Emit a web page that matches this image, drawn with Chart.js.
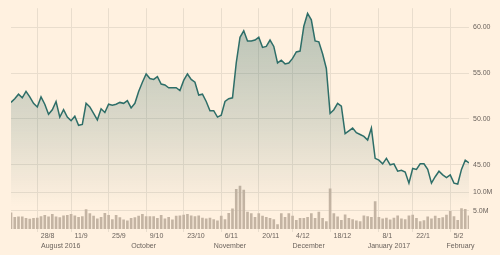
<!DOCTYPE html>
<html>
<head>
<meta charset="utf-8">
<script src="https://cdn.jsdelivr.net/npm/chart.js@4"></script>
<style>
    html, body { margin: 0; padding: 0; background: #fff1e0; }
    #wrap { width: 500px; height: 255px; position: relative; }
</style>
</head>
<body>
<div id="wrap"><canvas id="priceChart"></canvas></div>
<script>
// ==================== DATA ====================
// One value per trading day, 18 Aug 2016 -> 13 Feb 2017 (index 0..122)
const closePrices = [
    51.8, 52.2, 52.7, 52.3, 53.0, 52.4, 51.7, 51.3, 52.4, 51.6,
    50.5, 51.0, 51.9, 50.2, 51.0, 50.2, 49.8, 50.3, 49.3, 49.4,
    51.7, 51.3, 50.6, 49.9, 51.1, 50.7, 51.6, 51.5, 51.6, 51.8,
    51.7, 52.0, 51.2, 51.7, 53.0, 54.0, 54.9, 54.4, 54.3, 54.6,
    53.8, 53.7, 53.4, 53.4, 53.4, 53.1, 54.2, 54.9, 54.3, 54.0,
    52.6, 52.7, 51.9, 50.9, 50.9, 50.2, 50.4, 51.9, 52.2, 52.3,
    56.1, 58.9, 59.6, 58.5, 58.5, 58.6, 58.9, 57.8, 57.9, 58.6,
    57.9, 56.1, 56.4, 56.0, 56.1, 56.6, 57.3, 57.4, 60.1, 61.5,
    60.8, 58.5, 58.4, 57.1, 55.5, 50.6, 51.0, 51.7, 51.4, 48.4,
    48.7, 49.0, 48.5, 48.3, 48.1, 47.7, 49.0, 45.7, 45.5, 45.1,
    45.7, 45.0, 45.1, 44.3, 44.4, 44.2, 43.0, 44.6, 44.5, 45.1,
    45.1, 44.5, 43.0, 43.7, 44.3, 43.9, 43.6, 43.9, 43.0, 42.9,
    44.5, 45.5, 45.2
];

// volume in millions of shares
const volumes = [
    4.4, 3.2, 3.3, 3.3, 2.9, 2.7, 2.9, 3.0, 3.4, 3.7,
    3.3, 4.0, 3.3, 3.1, 3.6, 3.7, 4.0, 3.6, 3.2, 3.4,
    5.3, 4.2, 3.5, 2.8, 3.2, 4.3, 3.7, 2.6, 3.7, 3.1,
    2.5, 2.2, 2.9, 3.1, 3.5, 4.0, 3.4, 3.4, 3.4, 2.9,
    3.7, 2.8, 3.2, 2.5, 3.5, 3.6, 3.8, 4.0, 3.6, 3.4,
    3.6, 3.0, 2.8, 3.0, 2.6, 2.2, 3.5, 2.6, 4.3, 5.5,
    10.8, 11.7, 10.6, 4.6, 4.2, 3.2, 4.2, 3.5, 3.2, 2.9,
    2.6, 1.2, 4.2, 3.2, 4.2, 3.5, 2.4, 2.9, 2.9, 3.2,
    4.2, 2.9, 4.6, 2.9, 2.0, 11.0, 4.2, 3.3, 2.4, 3.9,
    2.9, 2.6, 2.2, 2.0, 3.6, 3.4, 3.2, 7.5, 3.2, 2.8,
    3.0, 2.5, 3.0, 3.6, 2.8, 2.6, 3.6, 3.8, 2.9, 2.0,
    2.3, 3.3, 2.8, 3.5, 2.9, 3.1, 3.8, 4.8, 3.4, 2.4,
    5.6, 5.4, 3.6
];

// x-axis ticks (trading-day index of the Monday after each labelled Sunday)
const weekTickIdx = [7, 16, 26, 36, 46, 56, 66, 75, 85, 98, 107, 117];
const weekTickLabels = ['28/8', '11/9', '25/9', '9/10', '23/10', '6/11', '20/11', '4/12', '18/12', '8/1', '22/1', '5/2'];
const monthTickIdx = [8, 32, 54, 75, 95, 116];
const monthTickLabels = ['August 2016', 'October', 'November', 'December', 'January 2017', 'February'];

const priceTicks = [45, 50, 55, 60];
const volumeTicks = [5, 10];

// ==================== CHART ====================
const PRICE_MIN = 38, PRICE_MAX = 62.07, VOL_MAX = 60.3;
const GRID = '#e9ddcd';
const TEXT = '#6b635d';
const FONT = { family: "'Liberation Sans', Arial, sans-serif", size: 7 };

function areaGradient(context) {
    const { ctx, chartArea } = context.chart;
    if (!chartArea) return 'rgba(60, 110, 100, 0.2)';
    const g = ctx.createLinearGradient(0, chartArea.top, 0, chartArea.bottom);
    g.addColorStop(0, 'rgba(52, 106, 100, 0.36)');
    g.addColorStop(0.55, 'rgba(52, 106, 100, 0.16)');
    g.addColorStop(0.9, 'rgba(52, 106, 100, 0.0)');
    return g;
}

new Chart(document.getElementById('priceChart'), {
    data: {
        datasets: [
            {
                type: 'line',
                label: 'Price',
                data: closePrices.map((p, i) => ({ x: i, y: p })),
                xAxisID: 'x',
                yAxisID: 'y',
                borderColor: '#2e6e68',
                borderWidth: 1.5,
                pointRadius: 0,
                tension: 0,
                fill: 'start',
                backgroundColor: areaGradient,
                order: 1
            },
            {
                type: 'bar',
                label: 'Volume',
                data: volumes.map((v, i) => ({ x: i, y: v })),
                xAxisID: 'x',
                yAxisID: 'yVol',
                backgroundColor: '#c4b4a3',
                barThickness: 2,
                order: 2
            }
        ]
    },
    options: {
        responsive: true,
        maintainAspectRatio: false,
        animation: false,
        layout: { padding: { left: 11, top: 0, right: 0, bottom: 0 } },
        plugins: {
            legend: { display: false },
            tooltip: { enabled: false }
        },
        scales: {
            x: {
                type: 'linear',
                position: 'bottom',
                min: 0,
                max: 122,
                offset: false,
                grid: { color: GRID, offset: false, drawTicks: true, tickLength: 3, tickColor: GRID },
                border: { display: false },
                afterBuildTicks: scale => { scale.ticks = weekTickIdx.map(v => ({ value: v })); },
                ticks: {
                    callback: (value, index) => weekTickLabels[index],
                    align: 'start',
                    labelOffset: 3.5,
                    padding: 0,
                    maxRotation: 0,
                    autoSkip: false,
                    color: TEXT,
                    font: FONT
                },
                afterFit: scale => { scale.height = 12; }
            },
            xMonth: {
                type: 'linear',
                position: 'bottom',
                min: 0,
                max: 122,
                offset: false,
                grid: { display: false, drawTicks: false },
                border: { display: false },
                afterBuildTicks: scale => { scale.ticks = monthTickIdx.map(v => ({ value: v })); },
                ticks: {
                    callback: (value, index) => monthTickLabels[index],
                    align: 'start',
                    padding: 1,
                    maxRotation: 0,
                    autoSkip: false,
                    color: TEXT,
                    font: FONT
                },
                afterFit: scale => { scale.height = 14; }
            },
            y: {
                type: 'linear',
                position: 'right',
                min: PRICE_MIN,
                max: PRICE_MAX,
                grid: { color: GRID, drawTicks: false },
                border: { display: false },
                // volume labels share the right-hand axis, placed where the volume scale puts them
                afterBuildTicks: scale => {
                    const volAsPrice = volumeTicks.map(v => ({
                        value: PRICE_MIN + v / VOL_MAX * (PRICE_MAX - PRICE_MIN),
                        vol: v
                    }));
                    scale.ticks = volAsPrice.concat(priceTicks.map(v => ({ value: v })));
                },
                ticks: {
                    callback: (value, index, ticks) =>
                        ticks[index].vol ? ticks[index].vol.toFixed(1) + 'M' : value.toFixed(2),
                    padding: 4,
                    color: TEXT,
                    font: FONT
                },
                afterFit: scale => { scale.width = 31; }
            },
            yVol: {
                type: 'linear',
                display: false,
                min: 0,
                max: VOL_MAX
            }
        }
    }
});
</script>
</body>
</html>
